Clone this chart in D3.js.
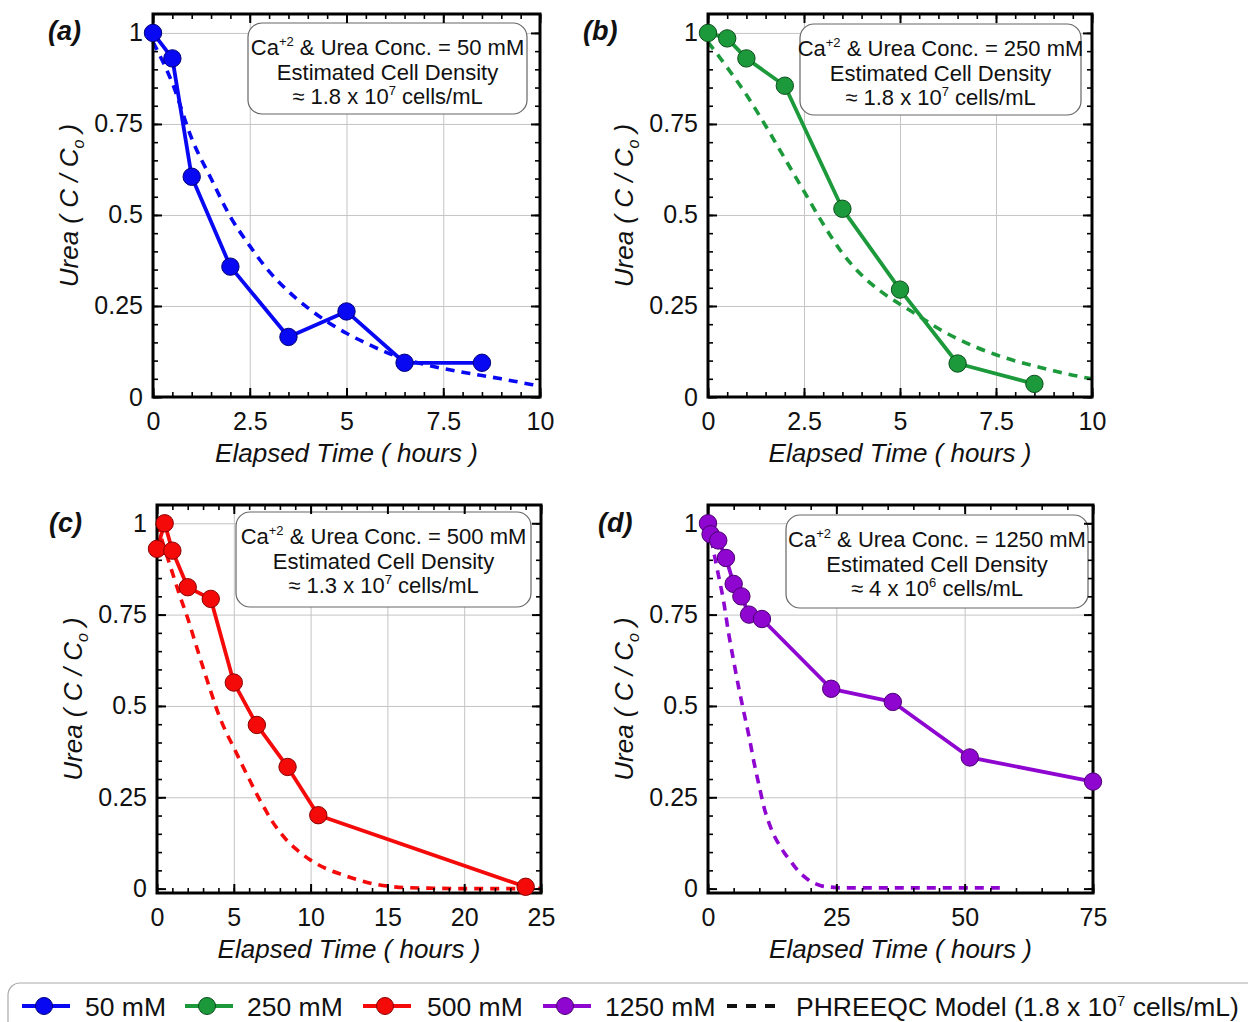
<!DOCTYPE html>
<html><head><meta charset="utf-8">
<script src="https://cdn.jsdelivr.net/npm/d3@7"></script>
<style>
body{margin:0;background:#fff}
svg{display:block}
text{font-family:"Liberation Sans",Arial,Helvetica,sans-serif}
</style>
</head><body>
<svg id="chart" width="1248" height="1022"></svg>
<script>
// ---------------- DATA ----------------
const timeA  = [0, 0.5, 1, 2, 3.5, 5, 6.5, 8.5];
const ureaA  = [1.0, 0.93, 0.605, 0.358, 0.165, 0.235, 0.094, 0.094];
const modelTimeA = [0,0.5,1,1.5,2,2.5,3,3.5,4,4.5,5,5.5,6,6.5,7,7.5,8,8.5,9,9.5,10];
const modelA     = [0.975,0.862,0.71,0.6,0.495,0.415,0.345,0.29,0.245,0.207,0.175,0.148,0.124,0.104,0.09,0.078,0.068,0.059,0.05,0.04,0.03];

const timeB  = [0, 0.5, 1, 2, 3.5, 5, 6.5, 8.5];
const ureaB  = [1.0, 0.985, 0.93, 0.855, 0.517, 0.295, 0.092, 0.036];
const modelTimeB = [0,0.5,1,1.5,2,2.5,3,3.5,4,4.5,5,5.5,6,6.5,7,7.5,8,8.5,9,9.5,10];
const modelB     = [0.975,0.905,0.83,0.745,0.655,0.565,0.475,0.395,0.335,0.29,0.255,0.222,0.188,0.16,0.136,0.116,0.099,0.085,0.072,0.06,0.05];

const timeC  = [0, 0.5, 1, 2, 3.5, 5, 6.5, 8.5, 10.5, 24];
const ureaC  = [0.93, 1.0, 0.925, 0.825, 0.793, 0.564, 0.448, 0.333, 0.201, 0.005];
const modelTimeC = [0,0.5,1,1.5,2,2.5,3,3.5,4,4.5,5,5.5,6,6.5,7,7.5,8,8.5,9,10,11,12,13,14,15,16,18,20,25];
const modelC     = [1.0,0.93,0.865,0.8,0.74,0.672,0.605,0.54,0.478,0.428,0.386,0.342,0.3,0.258,0.22,0.184,0.155,0.13,0.11,0.078,0.055,0.039,0.025,0.014,0.007,0.003,0.001,0,0];

const timeD  = [0, 0.5, 2, 3.5, 5, 6.5, 8, 10.5, 24, 36, 51, 75];
const ureaD  = [1.0, 0.97, 0.953, 0.905, 0.834, 0.80, 0.75, 0.738, 0.547, 0.511, 0.359, 0.293];
const modelTimeD = [0,1,2,3,4,5,6,7,8,9,10,11,12,13,14,15,16,17,18,19,20,21,22,24,26,57];
const modelD     = [1.0,0.93,0.86,0.79,0.70,0.623,0.549,0.482,0.416,0.343,0.279,0.218,0.175,0.142,0.117,0.095,0.077,0.058,0.042,0.03,0.019,0.013,0.008,0.004,0.002,0.002];

const yTickValues = [0, 0.25, 0.5, 0.75, 1];
const yTickLabels = ["0", "0.25", "0.5", "0.75", "1"];
const xTicksAB = [0, 2.5, 5, 7.5, 10];
const xLabelsAB = ["0", "2.5", "5", "7.5", "10"];
const xTicksC = [0, 5, 10, 15, 20, 25];
const xLabelsC = ["0", "5", "10", "15", "20", "25"];
const xTicksD = [0, 25, 50, 75];
const xLabelsD = ["0", "25", "50", "75"];

const panelLetters = ["(a)", "(b)", "(c)", "(d)"];
const concValues = ["50 mM", "250 mM", "500 mM", "1250 mM"];
const densityMantissa = ["1.8", "1.8", "1.3", "4"];
const densityExponent = ["7", "7", "7", "6"];
const seriesNames = ["50 mM", "250 mM", "500 mM", "1250 mM"];
const modelName = "PHREEQC Model (1.8 x 10";
const modelExp = "7";

// ---------------- STYLE / LAYOUT ----------------
const colors  = ["#0808f2", "#1c9a3b", "#f50a0a", "#8e06cf"];
const strokes = ["#00007a", "#0b4d1c", "#8a0000", "#4a0070"];

const panels = [
  {time: timeA, urea: ureaA, mt: modelTimeA, mv: modelA, xMax: 10, xt: xTicksAB, xl: xLabelsAB, xMinor: 0.5,
   f: {l:153, r:540, t:14, b:397}, yDom: [0, 1.052], lab: [48, 40], box: {x:248, y:23, w:279, h:91}},
  {time: timeB, urea: ureaB, mt: modelTimeB, mv: modelB, xMax: 10, xt: xTicksAB, xl: xLabelsAB, xMinor: 0.5,
   f: {l:708, r:1092, t:14, b:397}, yDom: [0, 1.052], lab: [583, 40], box: {x:800, y:24, w:281, h:91}},
  {time: timeC, urea: ureaC, mt: modelTimeC, mv: modelC, xMax: 25, xt: xTicksC, xl: xLabelsC, xMinor: 1,
   f: {l:157, r:541, t:505, b:893}, yDom: [-0.012, 1.05], lab: [49, 532], box: {x:236, y:512, w:295, h:95}},
  {time: timeD, urea: ureaD, mt: modelTimeD, mv: modelD, xMax: 75, xt: xTicksD, xl: xLabelsD, xMinor: 5,
   f: {l:708, r:1093, t:505, b:893}, yDom: [-0.012, 1.05], lab: [598, 532], box: {x:786, y:515, w:302, h:93}}
];

const svg = d3.select("#chart");
svg.append("rect").attr("width", 1248).attr("height", 1022).attr("fill", "#fff");

function styleAxis(sel, sw) {
  sel.select(".domain").remove();
  sel.selectAll("line").attr("stroke", "#000").attr("stroke-width", sw);
  sel.selectAll("text").attr("font-size", 25).attr("fill", "#111");
}

panels.forEach((p, i) => {
  const f = p.f;
  const g = svg.append("g");
  const x = d3.scaleLinear().domain([0, p.xMax]).range([f.l, f.r]);
  const y = d3.scaleLinear().domain(p.yDom).range([f.b, f.t]);

  // grid
  const gx = g.append("g").attr("transform", `translate(0,${f.b})`)
    .call(d3.axisBottom(x).tickValues(p.xt.filter(v => v > 0 && v < p.xMax)).tickSize(-(f.b - f.t)).tickFormat(""));
  gx.select(".domain").remove();
  gx.selectAll("line").attr("stroke", "#c4c4c4").attr("stroke-width", 1);
  const gy = g.append("g").attr("transform", `translate(${f.l},0)`)
    .call(d3.axisLeft(y).tickValues(yTickValues.filter(v => v > 0)).tickSize(-(f.r - f.l)).tickFormat(""));
  gy.select(".domain").remove();
  gy.selectAll("line").attr("stroke", "#c4c4c4").attr("stroke-width", 1);

  // annotation box
  const b = p.box;
  g.append("rect").attr("x", b.x).attr("y", b.y).attr("width", b.w).attr("height", b.h)
    .attr("rx", 14).attr("ry", 14).attr("fill", "#fff").attr("stroke", "#666").attr("stroke-width", 1.2);
  const cx = b.x + b.w / 2;
  const t1 = g.append("text").attr("x", cx).attr("y", b.y + 32).attr("text-anchor", "middle")
    .attr("font-size", 22).attr("fill", "#111");
  t1.append("tspan").text("Ca");
  t1.append("tspan").attr("font-size", 13).attr("dy", -9).text("+2");
  t1.append("tspan").attr("dy", 9).text(" & Urea Conc. = " + concValues[i]);
  g.append("text").attr("x", cx).attr("y", b.y + 56.5).attr("text-anchor", "middle")
    .attr("font-size", 22).attr("fill", "#111").text("Estimated Cell Density");
  const t3 = g.append("text").attr("x", cx).attr("y", b.y + 81).attr("text-anchor", "middle")
    .attr("font-size", 22).attr("fill", "#111");
  t3.append("tspan").text("\u2248 " + densityMantissa[i] + " x 10");
  t3.append("tspan").attr("font-size", 13).attr("dy", -9).text(densityExponent[i]);
  t3.append("tspan").attr("dy", 9).text(" cells/mL");

  // model (dashed)
  const mdata = p.mt.map((t, k) => [t, p.mv[k]]);
  g.append("path").datum(mdata)
    .attr("d", d3.line().x(d => x(d[0])).y(d => y(d[1])).curve(d3.curveMonotoneX))
    .attr("fill", "none").attr("stroke", colors[i]).attr("stroke-width", 3.6)
    .attr("stroke-dasharray", "9,7");

  // measured (solid)
  const data = p.time.map((t, k) => [t, p.urea[k]]);
  g.append("path").datum(data)
    .attr("d", d3.line().x(d => x(d[0])).y(d => y(d[1])))
    .attr("fill", "none").attr("stroke", colors[i]).attr("stroke-width", 3.8).attr("stroke-linejoin", "round");

  // frame
  g.append("rect").attr("x", f.l).attr("y", f.t).attr("width", f.r - f.l).attr("height", f.b - f.t)
    .attr("fill", "none").attr("stroke", "#000").attr("stroke-width", 3);

  // minor ticks
  const xMinor = d3.range(0, p.xMax + 1e-9, p.xMinor);
  const yMinor = d3.range(0, 1.0001, 0.05);
  [[d3.axisBottom(x), `translate(0,${f.b})`], [d3.axisTop(x), `translate(0,${f.t})`]].forEach(a => {
    const s = g.append("g").attr("transform", a[1]).call(a[0].tickValues(xMinor).tickSize(-5).tickFormat(""));
    styleAxis(s, 1.6);
  });
  [[d3.axisLeft(y), `translate(${f.l},0)`], [d3.axisRight(y), `translate(${f.r},0)`]].forEach(a => {
    const s = g.append("g").attr("transform", a[1]).call(a[0].tickValues(yMinor).tickSize(-5).tickFormat(""));
    styleAxis(s, 1.6);
  });
  // major ticks with labels
  const ax = g.append("g").attr("transform", `translate(0,${f.b})`)
    .call(d3.axisBottom(x).tickValues(p.xt).tickSizeInner(-9).tickSizeOuter(0).tickPadding(15)
      .tickFormat((d, k) => p.xl[k]));
  styleAxis(ax, 2);
  const axT = g.append("g").attr("transform", `translate(0,${f.t})`)
    .call(d3.axisTop(x).tickValues(p.xt).tickSize(-9).tickFormat(""));
  styleAxis(axT, 2);
  const ay = g.append("g").attr("transform", `translate(${f.l},0)`)
    .call(d3.axisLeft(y).tickValues(yTickValues).tickSizeInner(-9).tickSizeOuter(0).tickPadding(10)
      .tickFormat((d, k) => yTickLabels[k]));
  styleAxis(ay, 2);
  const ayR = g.append("g").attr("transform", `translate(${f.r},0)`)
    .call(d3.axisRight(y).tickValues(yTickValues).tickSize(-9).tickFormat(""));
  styleAxis(ayR, 2);

  // markers
  g.selectAll("circle.pt").data(data).join("circle").attr("class", "pt")
    .attr("cx", d => x(d[0])).attr("cy", d => y(d[1])).attr("r", 8.7)
    .attr("fill", colors[i]).attr("stroke", strokes[i]).attr("stroke-width", 1);

  // panel letter
  g.append("text").attr("x", p.lab[0]).attr("y", p.lab[1]).attr("font-size", 27)
    .attr("font-weight", "bold").attr("font-style", "italic").attr("fill", "#111").text(panelLetters[i]);

  // x title
  g.append("text").attr("x", (f.l + f.r) / 2).attr("y", f.b + 65).attr("text-anchor", "middle")
    .attr("font-size", 26).attr("font-style", "italic").attr("fill", "#111").text("Elapsed Time ( hours )");

  // y title
  const yt = g.append("text").attr("transform", `translate(${f.l - 75},${(f.t + f.b) / 2}) rotate(-90)`)
    .attr("text-anchor", "middle").attr("font-size", 26).attr("font-style", "italic").attr("fill", "#111");
  yt.append("tspan").text("Urea ( C / C");
  yt.append("tspan").attr("font-size", 16).attr("dy", 6).text("o");
  yt.append("tspan").attr("dy", -6).text(" )");
});

// ---------------- LEGEND ----------------
const lg = svg.append("g");
lg.append("rect").attr("x", 8).attr("y", 983).attr("width", 1260).attr("height", 70).attr("rx", 12)
  .attr("fill", "#fff").attr("stroke", "#aaa").attr("stroke-width", 1.2);
const legX = [22, 185, 363, 543];
const legTextX = [85, 247, 427, 605];
const legY = 1006;
seriesNames.forEach((name, i) => {
  lg.append("line").attr("x1", legX[i]).attr("x2", legX[i] + 48).attr("y1", legY).attr("y2", legY)
    .attr("stroke", colors[i]).attr("stroke-width", 3.8);
  lg.append("circle").attr("cx", legX[i] + 22).attr("cy", legY).attr("r", 8.5)
    .attr("fill", colors[i]).attr("stroke", strokes[i]).attr("stroke-width", 1);
  lg.append("text").attr("x", legTextX[i]).attr("y", legY + 9.5).attr("font-size", 26.5).attr("fill", "#111").text(name);
});
lg.append("line").attr("x1", 727).attr("x2", 777).attr("y1", legY).attr("y2", legY)
  .attr("stroke", "#111").attr("stroke-width", 4).attr("stroke-dasharray", "10,9");
const mt = lg.append("text").attr("x", 796).attr("y", legY + 9.5).attr("font-size", 26.5).attr("fill", "#111");
mt.append("tspan").text(modelName);
mt.append("tspan").attr("font-size", 15).attr("dy", -10).text(modelExp);
mt.append("tspan").attr("dy", 10).text(" cells/mL)");
</script>
</body></html>
